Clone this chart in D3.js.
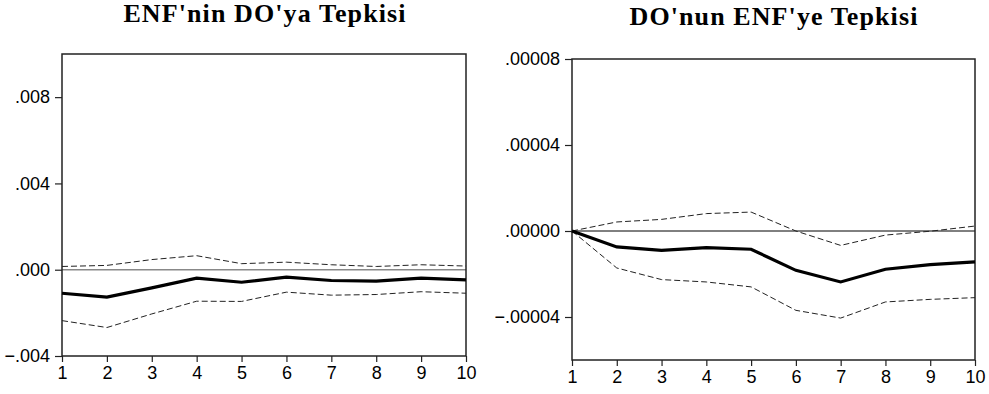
<!DOCTYPE html>
<html><head><meta charset="utf-8">
<script src="https://cdn.jsdelivr.net/npm/d3@7"></script>
<style>body{margin:0;background:#fff}svg{display:block}</style>
</head><body>
<svg id="c" width="989" height="394"></svg>
<script>
const periods = [1,2,3,4,5,6,7,8,9,10];

const leftTitle = "ENF'nin DO'ya Tepkisi";
const leftResp  = [-0.00109,-0.00127,-0.00084,-0.00039,-0.00058,-0.00034,-0.00050,-0.00053,-0.00039,-0.00047];
const leftUpper = [0.00015,0.00020,0.00047,0.00065,0.00028,0.00035,0.00023,0.00015,0.00023,0.00017];
const leftLower = [-0.00236,-0.00268,-0.00205,-0.00146,-0.00147,-0.00104,-0.00118,-0.00115,-0.00102,-0.00109];
const leftTicks = [-0.004,0.000,0.004,0.008];
const leftDomain = [-0.004,0.010];

const rightTitle = "DO'nun ENF'ye Tepkisi";
const rightResp  = [0,-0.0000074,-0.0000090,-0.0000077,-0.0000085,-0.0000183,-0.0000237,-0.0000178,-0.0000156,-0.0000144];
const rightUpper = [0,0.0000042,0.0000054,0.0000081,0.0000088,0.0000000,-0.0000067,-0.0000019,-0.0000001,0.0000023];
const rightLower = [0,-0.0000172,-0.0000226,-0.0000237,-0.0000260,-0.0000369,-0.0000405,-0.0000330,-0.0000318,-0.0000310];
const rightTicks = [-0.00004,0.00000,0.00004,0.00008];
const rightDomain = [-0.00006,0.00008];

const svg = d3.select("#c");

function panel(cfg){
  const g = svg.append("g");
  const x = d3.scaleLinear().domain([1,10]).range([cfg.l, cfg.r]);
  const y = d3.scaleLinear().domain(cfg.domain).range([cfg.b, cfg.t]);
  const fmt = v => d3.format(cfg.fmt)(v).replace("0.", ".");

  // title
  g.append("text").attr("x", cfg.tx).attr("y", cfg.ty)
    .attr("text-anchor","middle")
    .attr("font-family","'Liberation Serif','Times New Roman',serif")
    .attr("font-weight","bold").attr("font-size", 26)
    .attr("letter-spacing", "1.1px")
    .text(cfg.title);

  // zero line
  g.append("line").attr("x1", cfg.l).attr("x2", cfg.r)
    .attr("y1", y(0)).attr("y2", y(0))
    .attr("stroke", cfg.zeroColor).attr("stroke-width", cfg.zeroW);

  // y axis
  const ya = g.append("g").attr("transform",`translate(${cfg.l},0)`)
    .call(d3.axisLeft(y).tickValues(cfg.ticks).tickFormat(fmt).tickSize(7).tickPadding(5));
  // x axis
  const xa = g.append("g").attr("transform",`translate(0,${cfg.b})`)
    .call(d3.axisBottom(x).tickValues(periods).tickFormat(d3.format("d")).tickSize(6).tickPadding(4));
  [ya, xa].forEach(a => {
    a.select(".domain").remove();
    a.selectAll("line").attr("stroke","#222").attr("stroke-width",1.2);
    a.selectAll("text").attr("font-family","'Liberation Sans',Arial,sans-serif")
      .attr("font-size",18).attr("fill","#000");
  });

  // frame
  g.append("rect").attr("x", cfg.l).attr("y", cfg.t)
    .attr("width", cfg.r-cfg.l).attr("height", cfg.b-cfg.t)
    .attr("fill","none").attr("stroke","#222").attr("stroke-width",1.5);

  const line = d3.line().x((d,i)=>x(periods[i])).y(d=>y(d));
  [cfg.upper, cfg.lower].forEach(s => {
    g.append("path").datum(s).attr("d", line).attr("fill","none")
      .attr("stroke","#222").attr("stroke-width",1).attr("stroke-dasharray","6,3");
  });
  g.append("path").datum(cfg.resp).attr("d", line).attr("fill","none")
    .attr("stroke","#000").attr("stroke-width",3.2).attr("stroke-linejoin","miter");
}

panel({title:leftTitle, tx:265, ty:22, l:62, r:466, t:54, b:356,
  domain:leftDomain, ticks:leftTicks, fmt:".3f", resp:leftResp, upper:leftUpper, lower:leftLower,
  zeroColor:"#888", zeroW:1.6});
panel({title:rightTitle, tx:774, ty:25, l:572, r:975, t:59, b:360,
  domain:rightDomain, ticks:rightTicks, fmt:".5f", resp:rightResp, upper:rightUpper, lower:rightLower,
  zeroColor:"#000", zeroW:1});
</script>
</body></html>
